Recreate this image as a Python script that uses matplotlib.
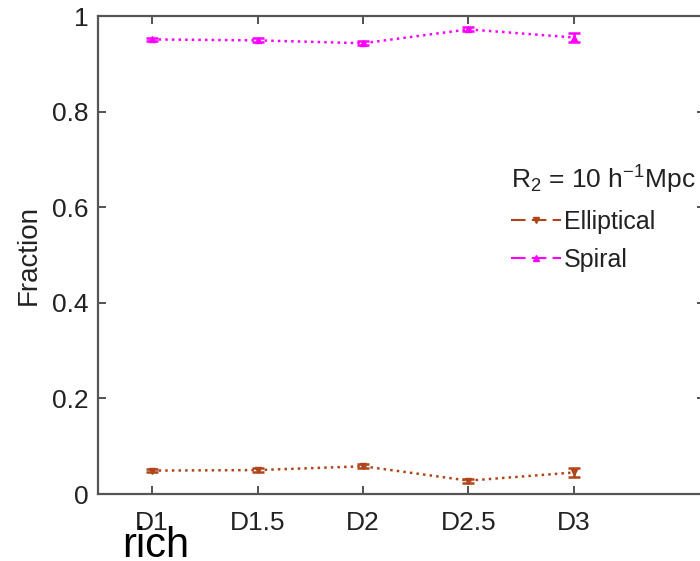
import matplotlib
matplotlib.use("Agg")
import matplotlib.pyplot as plt
from matplotlib.lines import Line2D

plt.rcParams['font.family'] = ['Liberation Sans', 'DejaVu Sans']
plt.rcParams['mathtext.fontset'] = 'custom'
plt.rcParams['mathtext.rm'] = 'Liberation Sans'
plt.rcParams['mathtext.it'] = 'Liberation Sans'

categories = ["D1", "D1.5", "D2", "D2.5", "D3"]
elliptical = [0.049, 0.050, 0.058, 0.028, 0.045]
elliptical_err = [0.004, 0.004, 0.004, 0.004, 0.009]
spiral = [0.951, 0.949, 0.943, 0.972, 0.955]
spiral_err = [0.004, 0.004, 0.004, 0.004, 0.009]
yticks = [0, 0.2, 0.4, 0.6, 0.8, 1]
ytick_labels = ["0", "0.2", "0.4", "0.6", "0.8", "1"]
series_labels = ["Elliptical", "Spiral"]

fig = plt.figure(figsize=(7, 5.61), dpi=100)
ax = fig.add_axes([98/700, (561-494)/561, (705-98)/700, (494-16)/561])

x = list(range(1, len(categories) + 1))
ecol = '#B0451A'
scol = '#FF00FF'
ax.errorbar(x, elliptical, yerr=elliptical_err, color=ecol, linestyle=':', linewidth=1.8,
            marker='v', markersize=5, capsize=4, elinewidth=1.8, capthick=1.8)
ax.errorbar(x, spiral, yerr=spiral_err, color=scol, linestyle=':', linewidth=1.8,
            marker='^', markersize=5, capsize=4, elinewidth=1.8, capthick=1.8)

ax.set_xlim(1 - 54/105.5, 5 + 131/105.5)
ax.set_ylim(0, 1)
ax.set_xticks(x)
ax.set_xticklabels(categories)
ax.set_yticks(yticks)
ax.set_yticklabels(ytick_labels)
ax.tick_params(direction='in', length=6, width=1.2, colors='#333333', labelsize=19,
               top=True, right=True)
ax.tick_params(axis='x', pad=12)
ax.tick_params(axis='y', pad=7)
for lab in ax.get_xticklabels() + ax.get_yticklabels():
    lab.set_color('#222222')
for sp in ax.spines.values():
    sp.set_color('#555555')
    sp.set_linewidth(1.6)
ax.set_ylabel('Fraction', fontsize=20, color='#222222', labelpad=7)

handles = [
    Line2D([], [], color=ecol, linestyle=(0, (7, 3)), linewidth=1.5, marker='v', markersize=4),
    Line2D([], [], color=scol, linestyle=(0, (7, 3)), linewidth=1.5, marker='^', markersize=4),
]
leg = ax.legend(handles, series_labels, title=r'R$_2$ = 10 h$^{-1}$Mpc', frameon=False,
                fontsize=18, title_fontsize=19, loc='upper left',
                bbox_to_anchor=(511/700, (561-164)/561), bbox_transform=fig.transFigure,
                handlelength=2.0, handletextpad=0.1, labelspacing=0.55, borderpad=0.0,
                borderaxespad=0.0, alignment='left')
for t in leg.get_texts():
    t.set_color('#222222')
leg.get_title().set_color('#222222')

fig.text(122/700, (561-557)/561, 'rich', fontsize=30, color='black', ha='left', va='baseline')

fig.savefig('out.png', dpi=100)
